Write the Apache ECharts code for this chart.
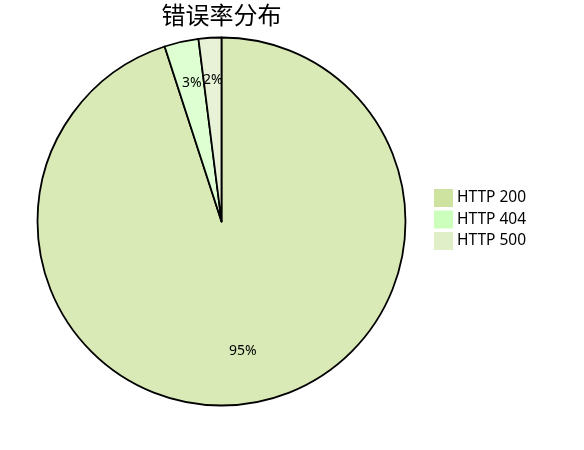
<!DOCTYPE html>
<html>
<head>
<meta charset="utf-8">
<script src="https://cdn.jsdelivr.net/npm/echarts@6/dist/echarts.min.js"></script>
<style>
  html, body { margin: 0; padding: 0; background: #fff; }
  #chart { width: 584px; height: 450px; }
</style>
</head>
<body>
<div id="chart"></div>
<script>
const titleText = '错误率分布';
const categories = ['HTTP 200', 'HTTP 404', 'HTTP 500'];
const values = [95, 3, 2];
const sliceColors = ['#d9eab6', '#ddffd2', '#e8f2d7'];
const legendColors = ['#cde39f', '#ccffbb', '#e1efc9'];

const chart = echarts.init(document.getElementById('chart'));

const pieData = categories.map((name, i) => ({
    name,
    value: values[i],
    itemStyle: { color: sliceColors[i] }
}));

chart.setOption({
    animation: false,
    title: {
        text: titleText,
        left: 221.5,
        top: 3,
        padding: 0,
        textAlign: 'center',
        textStyle: {
            fontFamily: 'Noto Sans CJK SC',
            fontSize: 24,
            fontWeight: 'normal',
            color: '#000'
        }
    },
    legend: {
        orient: 'vertical',
        left: 434,
        top: 189,
        padding: 0,
        itemWidth: 19,
        itemHeight: 18,
        itemGap: 3.5,
        icon: 'rect',
        textStyle: { fontFamily: 'Noto Sans', fontSize: 15.5, color: '#000', padding: [0, 0, 0, -1] },
        data: categories.map((name, i) => ({
            name,
            itemStyle: { color: legendColors[i], borderWidth: 0 }
        }))
    },
    series: [
        {
            type: 'pie',
            center: [221.5, 221.5],
            radius: [0, 184],
            startAngle: 90,
            clockwise: true,
            silent: true,
            label: { show: false },
            labelLine: { show: false },
            itemStyle: { borderColor: '#000', borderWidth: 1.8 },
            data: pieData
        },
        {
            // transparent ring used only to place the percent labels
            type: 'pie',
            center: [221.5, 221.5],
            radius: [83, 184],
            startAngle: 90,
            clockwise: true,
            silent: true,
            itemStyle: { color: 'transparent', borderWidth: 0 },
            label: {
                show: true,
                position: 'inside',
                formatter: '{c}%',
                offset: [0, -5],
                fontFamily: 'Noto Sans',
                fontSize: 14,
                color: '#000'
            },
            labelLine: { show: false },
            data: categories.map((name, i) => ({ name, value: values[i] }))
        }
    ]
});
</script>
</body>
</html>
